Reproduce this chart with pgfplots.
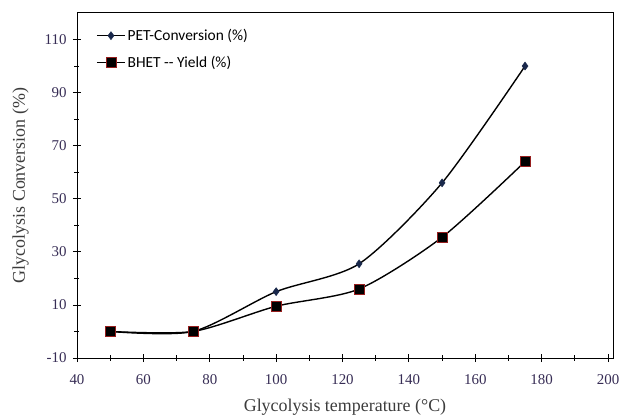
\documentclass[border=0pt]{standalone}
\usepackage{pgfplots}
\pgfplotsset{compat=1.18}
\usepackage{fontspec}
\setmainfont{Liberation Serif}
\newfontfamily\legendfont{Carlito}
\definecolor{ticklab}{RGB}{55,45,85}
\definecolor{axlab}{RGB}{60,60,60}
\definecolor{navy}{RGB}{25,40,75}
\definecolor{darkred}{RGB}{150,30,30}
\begin{document}
\begin{tikzpicture}
\useasboundingbox (-77bp,-60bp) rectangle (550bp,358bp);
\begin{axis}[
  at={(0,0)}, anchor=south west,
  scale only axis, width=536bp, height=345bp,
  xmin=40, xmax=201.5, ymin=-10, ymax=120,
  xtick={40,60,...,200}, ytick={-10,10,...,110},
  minor x tick num=1, minor y tick num=1,
  tick align=center, xtick pos=bottom, ytick pos=left,
  major tick length=8bp, minor tick length=5bp,
  tick style={black, line width=0.8pt},
  axis line style={black, line width=1pt},
  /pgf/number format/assume math mode=true,
  ticklabel style={font=\fontsize{15}{17}\selectfont, text=ticklab},
  xticklabel style={yshift=-9bp},
  yticklabel style={xshift=-3bp},
  xlabel={Glycolysis temperature (°C)},
  ylabel={Glycolysis Conversion (\%)},
  label style={font=\fontsize{18}{20}\selectfont, text=axlab},
  xlabel style={yshift=-8bp},
  ylabel style={yshift=9bp},
  legend style={draw=none, fill=none, at={(0.03,0.965)}, anchor=north west,
    font=\legendfont\fontsize{15.5}{17}\selectfont, row sep=10bp},
  legend cell align=left,
  legend image code/.code={\draw[mark repeat=2,mark phase=2,#1]
    plot coordinates {(0bp,0bp) (14bp,0bp) (28bp,0bp)};},
]
\addplot[black, line width=1.4pt, smooth, tension=0.45, mark=diamond*, mark size=4pt,
  mark options={fill=navy, draw=navy, line width=0.5pt}]
  coordinates {(50,0) (75,0) (100,15) (125,25.5) (150,56) (175,100)};
\addlegendentry{PET-Conversion (\%)}
\addplot[black, line width=1.4pt, smooth, tension=0.45, mark=square*, mark size=5pt,
  mark options={fill=black, draw=darkred, line width=0.8pt}]
  coordinates {(50,0) (75,0) (100,9.5) (125,16) (150,35.5) (175,64)};
\addlegendentry{BHET -- Yield (\%)}
\end{axis}
\end{tikzpicture}
\end{document}
